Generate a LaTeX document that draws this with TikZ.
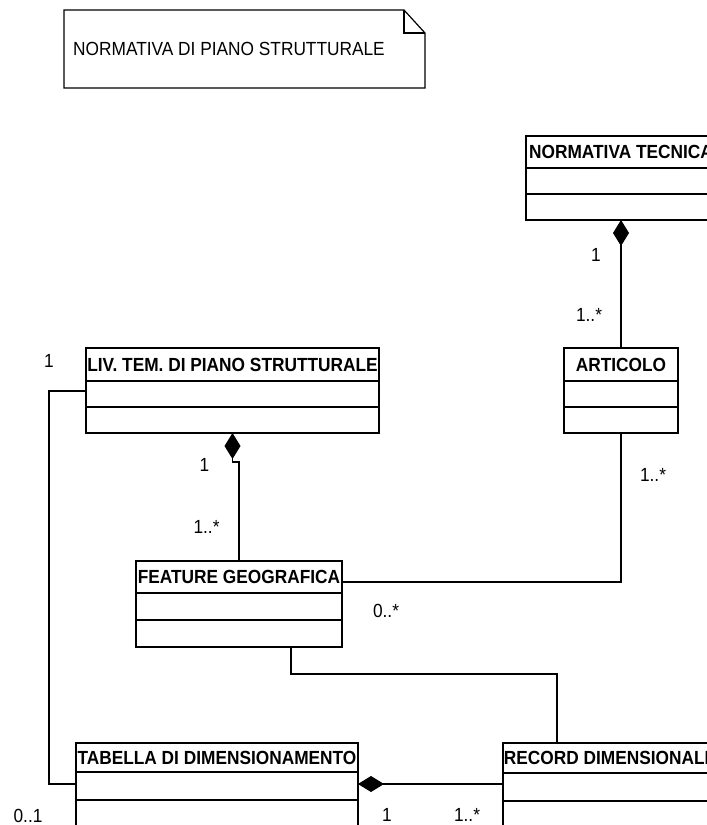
\documentclass[tikz,border=0pt]{standalone}
\usepackage{fontspec}
\setmainfont{Liberation Sans}[FakeStretch=0.91]
\usetikzlibrary{arrows.meta}

% one UML class: name, left x, top y, width, title height, compartment height, title
\newcommand\umlclass[7]{%
  \node[ctitle, minimum width=#4pt, minimum height=#5pt, anchor=north west] (#1) at (#2,#3) {#7};
  \node[ccomp, minimum width=#4pt, minimum height=#6pt, anchor=north west] (#1-a) at (#1.south west) {};
  \node[ccomp, minimum width=#4pt, minimum height=#6pt, anchor=north west] (#1-b) at (#1-a.south west) {};
}

\begin{document}
\begin{tikzpicture}[x=1pt, y=-1pt,
  every node/.style={font=\fontsize{19pt}{22pt}\selectfont},
  ctitle/.style={draw, line width=1.2pt, fill=white, inner sep=0pt, outer sep=0pt,
    text height=13.6pt, text depth=0pt, font=\fontsize{19pt}{22pt}\selectfont\bfseries},
  ccomp/.style={draw, line width=1.2pt, fill=white, inner sep=0pt, outer sep=0pt},
  assoc/.style={draw, line width=1.2pt},
  comp/.style={draw, line width=1.2pt, -{Diamond[length=26pt, width=16pt]}},
  lbl/.style={inner sep=0pt, anchor=base}]

\useasboundingbox (0,0) rectangle (707,825);
\fill[white] (0,0) rectangle (707,825);
\clip (0,0) rectangle (707,825);

% note with folded corner
\draw[line width=1.2pt, fill=white] (64,10) -- (404,10) -- (425,33) -- (425,88) -- (64,88) -- cycle;
\draw[line width=1.2pt] (404,10) -- (404,33) -- (425,33);
\node[inner sep=0pt, anchor=base west] (notetext) at (73,55) {NORMATIVA DI PIANO STRUTTURALE};

% classes
\umlclass{nt}{526}{136}{190}{32}{26}{NORMATIVA TECNICA}
\umlclass{art}{564}{348}{114}{33}{26}{ARTICOLO}
\umlclass{liv}{86}{348}{293}{33}{26}{LIV. TEM. DI PIANO STRUTTURALE}
\umlclass{fg}{136}{561}{206}{32}{27}{FEATURE GEOGRAFICA}
\umlclass{tab}{76}{743}{282}{29}{28}{TABELLA DI DIMENSIONAMENTO}
\umlclass{rec}{503}{743}{214}{30}{28}{RECORD DIMENSIONALE}

% connectors
\draw[comp] (art.north) -- (nt-b.south);
\draw[comp] (fg.north) -- ++(0,-99) -| (liv-b.south);
\draw[assoc] (art-b.south) |- ([yshift=-21pt]fg.north east);
\coordinate (fgrec) at (400,674);
\draw[assoc] ([xshift=52pt]fg-b.south) |- (fgrec) -| ([xshift=54pt]rec.north west);
\coordinate (leftrun) at (49,600);
\draw[assoc] ([yshift=-10pt]liv-a.north west) -| (leftrun) |- ([yshift=-12pt]tab-a.north west);
\draw[comp] ([yshift=-11pt]rec-a.north west) coordinate (rp) -- (rp -| tab-a.east);

% multiplicities
\node[lbl] (m1) at (596,261) {1};
\node[lbl] (m2) at (589,321) {1..*};
\node[lbl] (m3) at (49,367) {1};
\node[lbl] (m4) at (204.5,471) {1};
\node[lbl] (m5) at (206.5,533) {1..*};
\node[lbl] (m6) at (653,481) {1..*};
\node[lbl] (m7) at (386,617) {0..*};
\node[lbl] (m8) at (28,822) {0..1};
\node[lbl] (m9) at (387,821) {1};
\node[lbl] (m10) at (467,821) {1..*};
\end{tikzpicture}
\end{document}
